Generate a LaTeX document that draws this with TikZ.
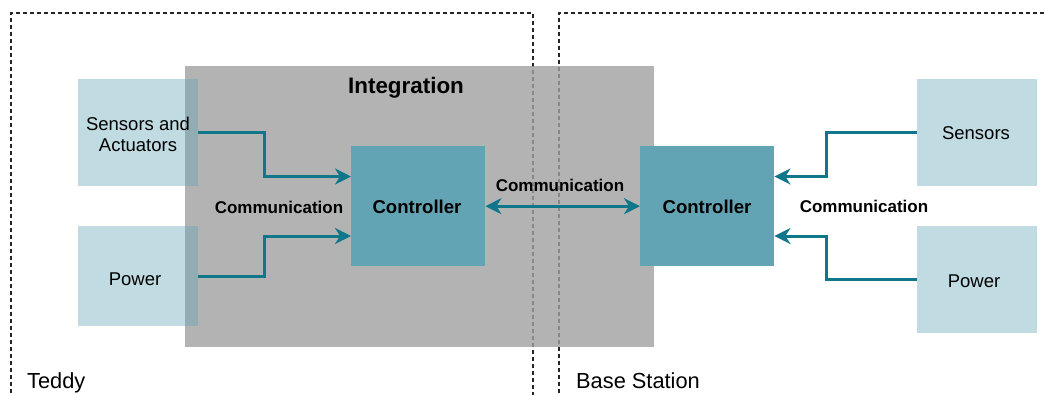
\documentclass[tikz,border=0pt]{standalone}
\usepackage{fontspec}
\setmainfont{Liberation Sans}
\usetikzlibrary{arrows.meta}
\definecolor{lightbox}{HTML}{62A4B3}
\definecolor{ctrl}{HTML}{62A4B3}
\definecolor{arr}{HTML}{10768A}
\definecolor{grayfill}{HTML}{A0A0A0}
\begin{document}
\begin{tikzpicture}[x=1pt,y=-1pt,
  region/.style={draw=black!85, line width=1.2pt, dash pattern=on 4pt off 3pt},
  sidebox/.style={fill=lightbox, fill opacity=0.4, draw=none, minimum width=120pt, minimum height=107pt, inner sep=0pt, anchor=north west},
  ctrlbox/.style={fill=ctrl, draw=none, minimum width=134pt, minimum height=120pt, inner sep=0pt, anchor=north west},
  tip/.tip={Stealth[length=16pt, width=16pt, inset=5pt]},
  link/.style={draw=arr, line width=3pt, -tip},
  boxtext/.style={font=\fontsize{18.5}{21}\selectfont, inner sep=0pt, align=center},
  boldlbl/.style={font=\fontsize{17}{20}\selectfont\bfseries, inner sep=0pt},
  ctrltext/.style={font=\fontsize{18.6}{22}\selectfont\bfseries, inner sep=0pt},
  regionlbl/.style={font=\fontsize{21.8}{26}\selectfont, inner sep=0pt, anchor=base west}
]
\useasboundingbox (0,0) rectangle (1044,394);
% regions
\draw[region] (11,400) -- (11,13) -- (533,13) -- (533,400);
\draw[region] (559,400) -- (559,13) -- (1050,13);
% integration area
\fill[grayfill, fill opacity=0.8] (185,66) rectangle (654,347);
\node[font=\fontsize{22.4}{26}\selectfont\bfseries, inner sep=0pt, anchor=base] (integ) at (406,93) {Integration};
% side boxes
\node[sidebox] (sa) at (78,79) {};
\node[sidebox, minimum height=100pt] (pl) at (78,226) {};
\node[sidebox] (sr) at (917,79) {};
\node[sidebox] (pr) at (917,226) {};
\node[boxtext, anchor=base] (satext) at (138,130) {Sensors and};
\node[boxtext, anchor=base] (satext2) at (138,151) {Actuators};
\node[boxtext, anchor=base] (pltext) at (135,285) {Power};
\node[boxtext, anchor=base] (srtext) at (976,139.5) {Sensors};
\node[boxtext, anchor=base] (prtext) at (974,287.5) {Power};
% controllers
\node[ctrlbox] (cl) at (351,146) {};
\node[ctrlbox] (cr) at (640,146) {};
\node[ctrltext, anchor=base] at (417,213) {Controller};
\node[ctrltext, anchor=base] at (707,213) {Controller};
% communication labels
\node[boldlbl, anchor=base] (cml) at (279,213) {Communication};
\node[boldlbl, anchor=base] (cmm) at (560,191.5) {Communication};
\node[boldlbl, anchor=base] (cmr) at (864,212.5) {Communication};
% connectors
\coordinate (sa1) at (sa.north east |- 0,132);
\coordinate (cl1) at (cl.north west |- 0,176.5);
\coordinate (pl1) at (pl.north east |- 0,276);
\coordinate (cl2) at (cl.north west |- 0,236);
\coordinate (sr1) at (sr.north west |- 0,132);
\coordinate (cr1) at (cr.north east |- 0,176.5);
\coordinate (pr1) at (pr.north west |- 0,279);
\coordinate (cr2) at (cr.north east |- 0,236);
\draw[link] (sa1) -- (264,132) -- (264,176.5) -- (cl1);
\draw[link] (pl1) -- (264,276) -- (264,236) -- (cl2);
\draw[link] (sr1) -- (826,132) -- (826,176.5) -- (cr1);
\draw[link] (pr1) -- (826,279) -- (826,236) -- (cr2);
\draw[link, tip-tip] (cl.east) -- (cr.west);
% region labels
\node[regionlbl] (teddy) at (27,388) {Teddy};
\node[regionlbl] (base) at (576,388) {Base Station};
\end{tikzpicture}
\end{document}
